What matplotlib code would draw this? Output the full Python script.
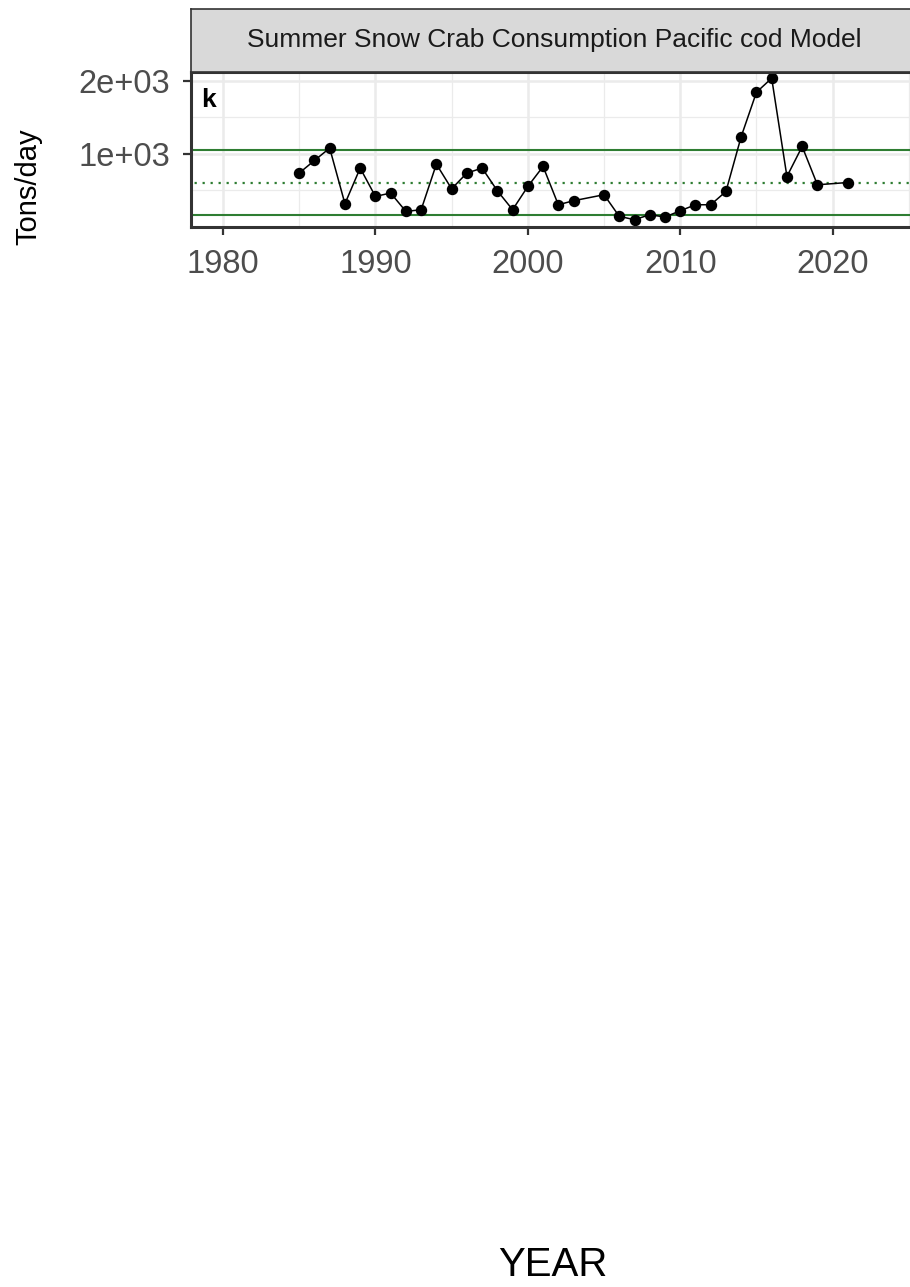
import matplotlib
matplotlib.use("Agg")
import matplotlib.pyplot as plt
import numpy as np

plt.rcParams['font.family'] = ['Liberation Sans', 'DejaVu Sans']

# data
years = [1985, 1986, 1987, 1988, 1989, 1990, 1991, 1992, 1993, 1994,
         1995, 1996, 1997, 1998, 1999, 2000, 2001, 2002, 2003, 2005,
         2006, 2007, 2008, 2009, 2010, 2011, 2012, 2013, 2014, 2015,
         2016, 2017, 2018, 2019, 2021]
tons = [737, 909, 1078, 318, 805, 418, 464, 213, 236, 859,
        522, 737, 805, 495, 236, 554, 827, 304, 359, 441,
        145, 100, 168, 136, 222, 304, 304, 486, 1236, 1841,
        2033, 690, 1100, 577, 608]

mean_line = 605
upper_line = 1052
lower_line = 162

x_ticks = [1980, 1990, 2000, 2010, 2020]
x_labels = ['1980', '1990', '2000', '2010', '2020']
y_ticks = [1000, 2000]
y_labels = ['1e+03', '2e+03']

title = 'Summer Snow Crab Consumption Pacific cod Model'

W, H = 910, 1287
fig = plt.figure(figsize=(W / 100, H / 100), dpi=100)

def px_box(x0, y0, x1, y1):
    return [x0 / W, 1 - y1 / H, (x1 - x0) / W, (y1 - y0) / H]

ax = fig.add_axes(px_box(191, 72, 918, 227))
strip = fig.add_axes(px_box(191, 9, 918, 72))

# panel
ax.set_xlim(1977.9, 2025.6)
ax.set_ylim(0, 2118)
ax.set_xticks(x_ticks)
ax.set_xticklabels(x_labels)
ax.set_yticks(y_ticks)
ax.set_yticklabels(y_labels)
ax.set_xticks([1985, 1995, 2005, 2015, 2025], minor=True)
ax.set_yticks([500, 1500], minor=True)
ax.grid(True, which='major', color='#EBEBEB', linewidth=1.8)
ax.grid(True, which='minor', color='#EBEBEB', linewidth=0.9)
ax.set_axisbelow(True)
ax.tick_params(which='minor', length=0)
ax.tick_params(which='major', length=6, width=1.6, color='#333333',
               labelsize=23.5, labelcolor='#4D4D4D')
ax.tick_params(axis='x', pad=10)
ax.tick_params(axis='y', pad=9)

for sp in ax.spines.values():
    sp.set_color('#333333')
    sp.set_linewidth(2.2)

ax.axhline(upper_line, color='#2E7D32', linewidth=1.5)
ax.axhline(lower_line, color='#2E7D32', linewidth=1.5)
ax.axhline(mean_line, color='#2E7D32', linewidth=1.6,
           linestyle=(2, (1, 2.6)))

ax.plot(years, tons, color='black', linewidth=1.1, marker='o',
        markersize=7.2, markerfacecolor='black', markeredgecolor='black')

ax.text(10 / 727, 0.82, 'k', transform=ax.transAxes, fontsize=19,
        fontweight='bold', ha='left', va='center')

# strip
strip.set_facecolor('#D9D9D9')
strip.set_xticks([])
strip.set_yticks([])
for sp in strip.spines.values():
    sp.set_color('#333333')
    sp.set_linewidth(1.2)
strip.text(0.5, 0.5, title, transform=strip.transAxes, ha='center',
           va='center', fontsize=19, color='#1A1A1A')

fig.text(28 / W, 1 - 187 / H, 'Tons/day', rotation=90, ha='center',
         va='center', fontsize=21, color='black')
fig.text(553 / W, 1 - 1265 / H, 'YEAR', ha='center', va='center',
         fontsize=29, color='black')

plt.savefig('out.png', dpi=100)
plt.close()
